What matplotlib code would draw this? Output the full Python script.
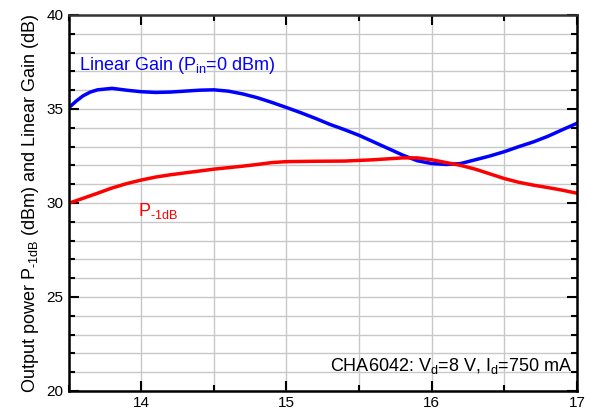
import matplotlib
matplotlib.use('Agg')
import matplotlib.pyplot as plt
from matplotlib.ticker import MultipleLocator

plt.rcParams['font.family'] = 'Liberation Sans'
plt.rcParams['mathtext.fontset'] = 'custom'
plt.rcParams['mathtext.rm'] = 'Liberation Sans'
plt.rcParams['mathtext.it'] = 'Liberation Sans'

# frequency (GHz)
freq_gain = [13.5, 13.55, 13.6, 13.65, 13.7, 13.8, 13.9, 14.0, 14.1, 14.2, 14.3, 14.4, 14.5,
             14.6, 14.7, 14.8, 14.9, 15.0, 15.1, 15.2, 15.3, 15.4, 15.5, 15.6, 15.7,
             15.8, 15.9, 16.0, 16.1, 16.2, 16.3, 16.4, 16.5, 16.6, 16.7, 16.8, 16.9, 17.0]
gain = [35.05, 35.4, 35.7, 35.9, 36.02, 36.1, 36.0, 35.92, 35.88, 35.9, 35.95, 36.0, 36.02,
        35.95, 35.8, 35.6, 35.35, 35.08, 34.8, 34.5, 34.18, 33.9, 33.6, 33.25, 32.9,
        32.55, 32.25, 32.1, 32.05, 32.1, 32.3, 32.5, 32.73, 33.0, 33.25, 33.55, 33.9, 34.24]

freq_p1db = [13.5, 13.6, 13.7, 13.8, 13.9, 14.0, 14.1, 14.2, 14.3, 14.4, 14.5, 14.6,
             14.7, 14.8, 14.9, 15.0, 15.2, 15.4, 15.6, 15.8, 15.9, 16.0, 16.1, 16.2,
             16.3, 16.4, 16.5, 16.6, 16.7, 16.8, 16.9, 17.0]
p1db = [29.98, 30.25, 30.52, 30.8, 31.03, 31.22, 31.38, 31.5, 31.6, 31.7, 31.8, 31.88,
        31.96, 32.05, 32.15, 32.2, 32.22, 32.23, 32.3, 32.4, 32.4, 32.3, 32.15, 32.0,
        31.8, 31.55, 31.3, 31.1, 30.95, 30.82, 30.68, 30.52]

fig = plt.figure(figsize=(5.9, 4.12), dpi=100)
ax = fig.add_axes([68.5/590, 1 - 391/412, (577-68.5)/590, (391-15)/412])

ax.plot(freq_gain, gain, color='#0000ff', linewidth=2.5)
ax.plot(freq_p1db, p1db, color='#ff0000', linewidth=2.5)

ax.set_xlim(13.5, 17)
ax.set_ylim(20, 40)
ax.xaxis.set_major_locator(MultipleLocator(1))
ax.xaxis.set_minor_locator(MultipleLocator(0.5))
ax.yaxis.set_major_locator(MultipleLocator(5))
ax.yaxis.set_minor_locator(MultipleLocator(1))
ax.grid(True, which='both', color='#c8c8c8', linewidth=1)
ax.set_axisbelow(True)
ax.tick_params(which='both', direction='in', top=True, right=True, labelsize=11, width=1.5)
ax.tick_params(which='major', length=7)
ax.tick_params(which='minor', length=4)
for s in ax.spines.values():
    s.set_linewidth(1.8)
    s.set_color('black')
ax.spines['top'].set_color('#333333')

ax.set_ylabel('Output power P$_{\\mathrm{\u20101dB}}$ (dBm) and Linear Gain (dB)', fontsize=13, labelpad=4)

ax.text(13.57, 37.1, r'Linear Gain (P$_{\mathrm{in}}$=0 dBm)', color='#0000ff', fontsize=13)
ax.text(13.98, 29.3, 'P$_{\\mathrm{\u20101dB}}$', color='#ff0000', fontsize=13)
ax.text(16.97, 21.05, r'CHA6042: V$_{\mathrm{d}}$=8 V, I$_{\mathrm{d}}$=750 mA',
        color='black', fontsize=13, ha='right')

fig.savefig('out.png', dpi=100)
